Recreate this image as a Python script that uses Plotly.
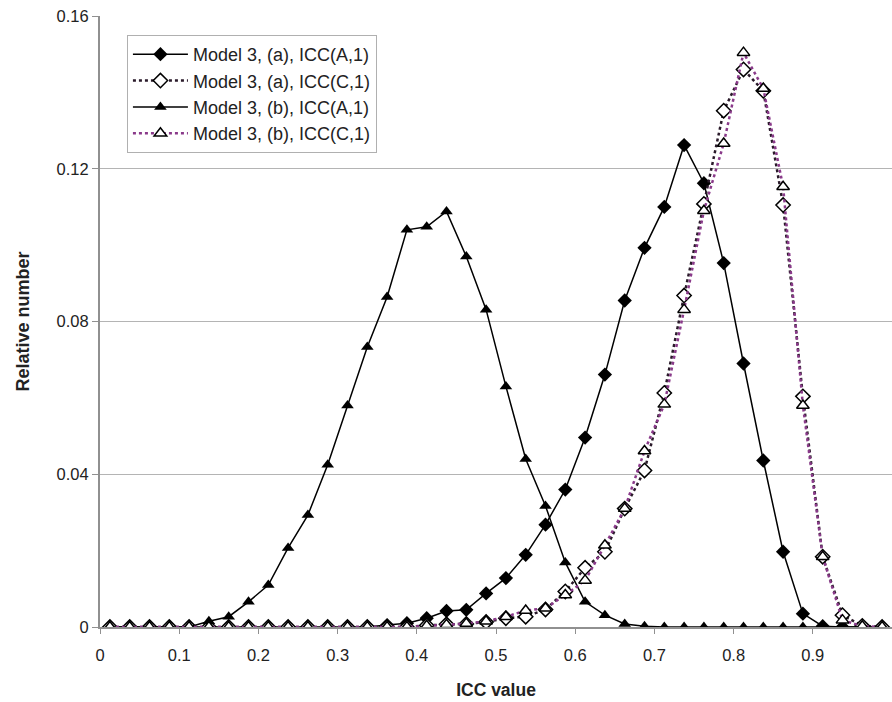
import plotly.graph_objects as go

# bin centres of ICC value
icc_bins = [0.0125, 0.0375, 0.0625, 0.0875, 0.1125, 0.1375, 0.1625, 0.1875, 0.2125, 0.2375,
            0.2625, 0.2875, 0.3125, 0.3375, 0.3625, 0.3875, 0.4125, 0.4375, 0.4625, 0.4875,
            0.5125, 0.5375, 0.5625, 0.5875, 0.6125, 0.6375, 0.6625, 0.6875, 0.7125, 0.7375,
            0.7625, 0.7875, 0.8125, 0.8375, 0.8625, 0.8875, 0.9125, 0.9375, 0.9625, 0.9875]

m3a_icc_a1 = [0, 0, 0, 0, 0, 0, 0, 0, 0, 0,
              0, 0, 0, 0, 0.0005, 0.001, 0.0023, 0.0042, 0.0045, 0.0088,
              0.0128, 0.0189, 0.0268, 0.0360, 0.0496, 0.0661, 0.0855, 0.0993, 0.1100, 0.1262,
              0.1162, 0.0953, 0.0690, 0.0436, 0.0197, 0.0035, 0.0002, 0, 0, 0]

m3a_icc_c1 = [0, 0, 0, 0, 0, 0, 0, 0, 0, 0,
              0, 0, 0, 0, 0, 0, 0.0004, 0.0007, 0.0008, 0.0013,
              0.0023, 0.0027, 0.0046, 0.0093, 0.0155, 0.0197, 0.0310, 0.0410, 0.0613, 0.0868,
              0.1108, 0.1352, 0.1460, 0.1404, 0.1105, 0.0604, 0.0184, 0.0031, 0.0003, 0]

m3b_icc_a1 = [0, 0, 0, 0, 0, 0.0015, 0.0027, 0.0066, 0.0110, 0.0207,
              0.0293, 0.0425, 0.0580, 0.0733, 0.0864, 0.1040, 0.1048, 0.1088, 0.0970, 0.0831,
              0.0630, 0.0440, 0.0317, 0.0169, 0.0066, 0.0031, 0.0008, 0.0002, 0, 0,
              0, 0, 0, 0, 0, 0, 0, 0, 0, 0]

m3b_icc_c1 = [0, 0, 0, 0, 0, 0, 0, 0, 0, 0,
              0, 0, 0, 0, 0, 0, 0.0003, 0.0006, 0.0009, 0.0015,
              0.0027, 0.0043, 0.0049, 0.0084, 0.0122, 0.0214, 0.0310, 0.0461, 0.0583, 0.0831,
              0.1090, 0.1266, 0.1504, 0.1410, 0.1153, 0.0580, 0.0184, 0.0018, 0.0002, 0]

names = ["Model 3, (a), ICC(A,1)", "Model 3, (a), ICC(C,1)",
         "Model 3, (b), ICC(A,1)", "Model 3, (b), ICC(C,1)"]

fig = go.Figure()
fig.add_trace(go.Scatter(
    x=icc_bins, y=m3a_icc_a1, name=names[0], mode="lines+markers",
    line=dict(color="black", width=1.5),
    marker=dict(symbol="diamond", size=11, color="black")))
fig.add_trace(go.Scatter(
    x=icc_bins, y=m3a_icc_c1, name=names[1], mode="lines+markers",
    line=dict(color="#2a1a2a", width=2.5, dash="dot"),
    marker=dict(symbol="diamond", size=11, color="white", line=dict(color="black", width=1.5))))
fig.add_trace(go.Scatter(
    x=icc_bins, y=m3b_icc_a1, name=names[2], mode="lines+markers",
    line=dict(color="black", width=1.5),
    marker=dict(symbol="triangle-up", size=11, color="black")))
fig.add_trace(go.Scatter(
    x=icc_bins, y=m3b_icc_c1, name=names[3], mode="lines+markers",
    line=dict(color="#8a3a8a", width=2.5, dash="dot"),
    marker=dict(symbol="triangle-up", size=11, color="white", line=dict(color="black", width=1.5))))

font_family = "Liberation Sans, Arial, sans-serif"

fig.update_layout(
    width=892, height=702,
    template=None,
    paper_bgcolor="white", plot_bgcolor="white",
    margin=dict(l=100, r=0, t=16, b=75),
    font=dict(family=font_family, size=16.5, color="#222222"),
    showlegend=True,
    legend=dict(
        x=0.034, y=0.969, xanchor="left", yanchor="top",
        bgcolor="white", bordercolor="#b0b0b0", borderwidth=1,
        font=dict(size=18, color="#222222"),
        itemwidth=55,
    ),
    xaxis=dict(
        range=[0, 1], dtick=0.1, tick0=0,
        showgrid=False, zeroline=False,
        showline=True, linecolor="#909090", linewidth=2,
        ticks="outside", ticklen=5, tickcolor="#909090",
        ticklabelstandoff=7,
        automargin=False,
        title=dict(text="<b>ICC value</b>", font=dict(size=17.5, color="#222222"), standoff=21),
    ),
    yaxis=dict(
        range=[0, 0.16], dtick=0.04, tick0=0,
        showgrid=True, gridcolor="#b4b4b4", gridwidth=1,
        zeroline=False,
        showline=True, linecolor="#909090", linewidth=2,
        ticks="outside", ticklen=6, tickcolor="#909090",
        automargin=False,
        title=dict(text="<b>Relative number</b>", font=dict(size=18, color="#222222"), standoff=22),
    ),
)

fig.write_html("out.html", config={"displayModeBar": False},
               post_script="document.body.style.margin='0px';")
